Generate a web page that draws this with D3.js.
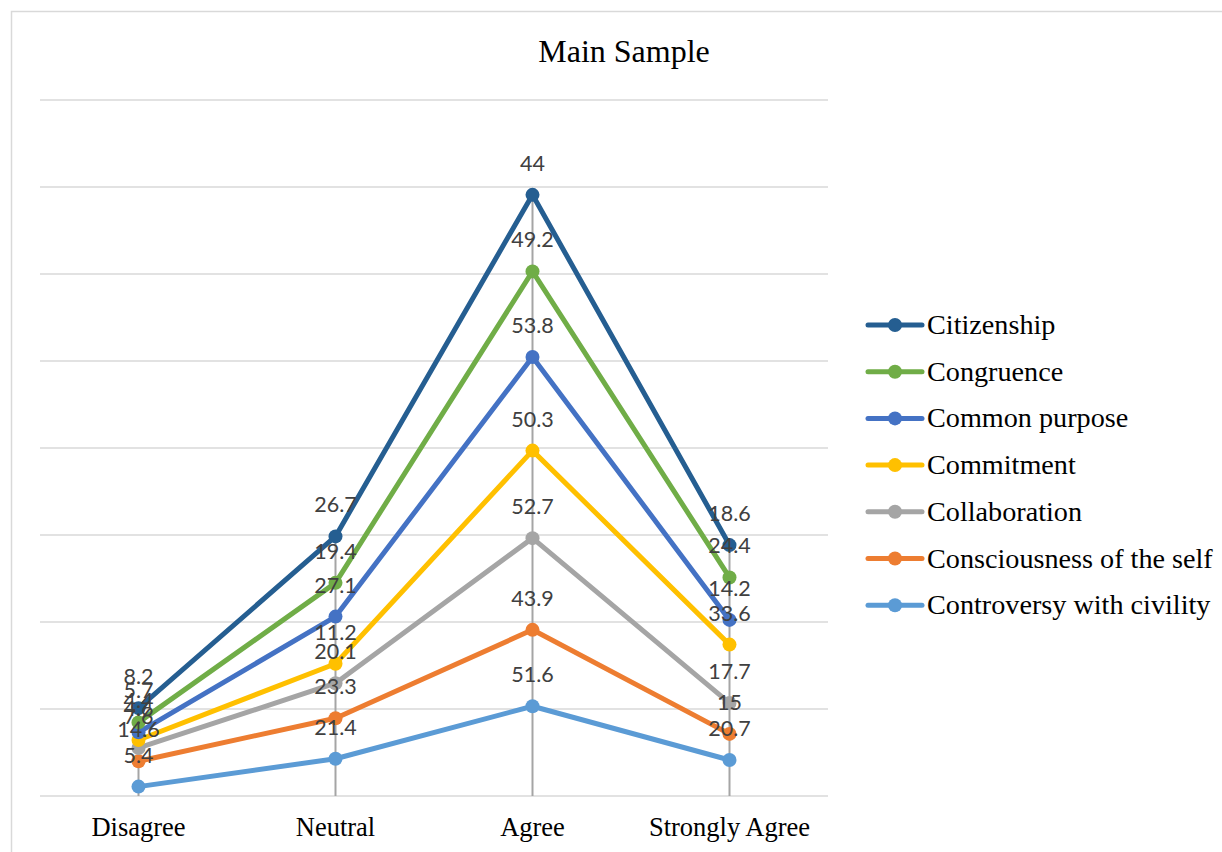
<!DOCTYPE html>
<html><head><meta charset="utf-8">
<script src="https://cdn.jsdelivr.net/npm/d3@7"></script>
<style>body{margin:0;background:#fff}svg{display:block}</style>
</head><body>
<svg id="c" width="1222" height="852"></svg>
<script>
const categories = ["Disagree", "Neutral", "Agree", "Strongly Agree"];
// series in stacking order (bottom first)
const seriesNames = ["Controversy with civility", "Consciousness of the self", "Collaboration", "Commitment", "Common purpose", "Congruence", "Citizenship"];
const controversy = [5.4, 21.4, 51.6, 20.7];
const consciousness = [14.6, 23.3, 43.9, 15];
const collaboration = [7.6, 20.1, 52.7, 17.7];
const commitment = [4.6, 11.2, 50.3, 33.6];
const commonPurpose = [4.4, 27.1, 53.8, 14.2];
const congruence = [5.7, 19.4, 49.2, 24.4];
const citizenship = [8.2, 26.7, 44, 18.6];
const seriesValues = [controversy, consciousness, collaboration, commitment, commonPurpose, congruence, citizenship];
const colors = ["#5B9BD5", "#ED7D31", "#A5A5A5", "#FFC000", "#4472C4", "#70AD47", "#255E91"];
const yTicks = [0, 50, 100, 150, 200, 250, 300, 350, 400];

const svg = d3.select("#c");
svg.append("rect").attr("x", 11.5).attr("y", 11.5).attr("width", 1240).attr("height", 900)
  .attr("fill", "none").attr("stroke", "#d9d9d9").attr("stroke-width", 1.5);

const x = d3.scaleBand().domain(categories).range([40, 828]);
const y = d3.scaleLinear().domain([0, 400]).range([796, 100]);
const cx = c => x(c) + x.bandwidth() / 2;

svg.append("text").attr("x", 624).attr("y", 62).attr("text-anchor", "middle")
  .attr("font-family", "Liberation Serif").attr("font-size", 32).attr("fill", "#000").text("Main Sample");

svg.append("g").selectAll("line").data(yTicks).join("line")
  .attr("x1", 40).attr("x2", 828).attr("y1", d => y(d)).attr("y2", d => y(d))
  .attr("stroke", "#d9d9d9").attr("stroke-width", 1.5);

// stack
const stacked = [];
let cum = categories.map(() => 0);
seriesValues.forEach((vals, i) => {
  cum = cum.map((c, j) => c + vals[j]);
  stacked.push({ name: seriesNames[i], color: colors[i], vals, tops: cum.slice() });
});

// drop lines
const topS = stacked[stacked.length - 1];
svg.append("g").selectAll("line").data(categories).join("line")
  .attr("x1", d => cx(d)).attr("x2", d => cx(d))
  .attr("y1", (d, j) => y(topS.tops[j])).attr("y2", y(0))
  .attr("stroke", "#a5a5a5").attr("stroke-width", 2);

const line = d3.line().x((d, j) => cx(categories[j])).y(d => y(d));
const g = svg.append("g");
stacked.forEach(s => {
  g.append("path").attr("d", line(s.tops)).attr("fill", "none")
    .attr("stroke", s.color).attr("stroke-width", 5).attr("stroke-linejoin", "round");
  g.selectAll(null).data(s.tops).join("circle")
    .attr("cx", (d, j) => cx(categories[j])).attr("cy", d => y(d)).attr("r", 7).attr("fill", s.color);
});
const lg = svg.append("g");
stacked.forEach(s => {
  lg.selectAll(null).data(s.tops).join("text")
    .attr("x", (d, j) => cx(categories[j])).attr("y", d => y(d) - 24)
    .attr("text-anchor", "middle").attr("font-family", "Lato, 'Open Sans', sans-serif").attr("font-size", 21.5)
    .attr("fill", "#404040").text((d, j) => s.vals[j]);
});

svg.append("g").selectAll("text").data(categories).join("text")
  .attr("x", d => cx(d)).attr("y", 836).attr("text-anchor", "middle")
  .attr("font-family", "Liberation Serif").attr("font-size", 26.5).attr("fill", "#000").text(d => d);

// legend (reverse order)
const legendItems = stacked.slice().reverse();
const leg = svg.append("g");
legendItems.forEach((s, i) => {
  const ly = 325 + i * 46.7;
  leg.append("line").attr("x1", 868).attr("x2", 922).attr("y1", ly).attr("y2", ly)
    .attr("stroke", s.color).attr("stroke-width", 5).attr("stroke-linecap", "round");
  leg.append("circle").attr("cx", 895).attr("cy", ly).attr("r", 7).attr("fill", s.color);
  leg.append("text").attr("x", 927).attr("y", ly + 9).attr("font-family", "Liberation Serif")
    .attr("font-size", 28.2).attr("fill", "#000").text(s.name);
});
</script>
</body></html>
